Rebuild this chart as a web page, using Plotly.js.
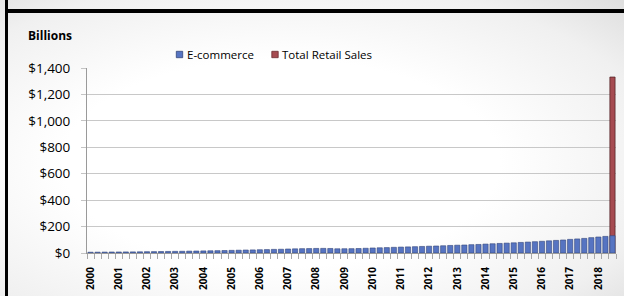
<!DOCTYPE html>
<html>
<head>
<meta charset="utf-8">
<script src="https://cdn.plot.ly/plotly-3.0.1.min.js"></script>
<style>
  html, body { margin: 0; padding: 0; }
  body { width: 624px; height: 296px; overflow: hidden; position: relative;
         background: radial-gradient(ellipse at 45% 55%, #ffffff 45%, #f0f0f0 80%, #dedede 100%); }
  #topline { position: absolute; left: 5px; right: 0; top: 9px; height: 4px; background: #000; }
  #leftline { position: absolute; left: 5px; width: 3px; top: 0; bottom: 0; background: #000; }
  #chart { position: absolute; left: 0; top: 0; width: 624px; height: 296px; }
</style>
</head>
<body>
<div id="chart"></div>
<div id="topline"></div>
<div id="leftline"></div>
<script>
// Quarterly categories 2000 Q1 .. 2018 Q3
const years = ["2000","2001","2002","2003","2004","2005","2006","2007","2008","2009",
               "2010","2011","2012","2013","2014","2015","2016","2017","2018"];
const quarters = ["Q1","Q2","Q3","Q4"];

// E-commerce sales, billions (quarterly)
const ecommerce = [
  5.8, 6.3, 7.0, 7.6,       // 2000
  7.7, 8.1, 8.3, 9.0,       // 2001
  9.9, 10.4, 11.1, 11.8,    // 2002
  12.4, 13.1, 14.1, 15.0,   // 2003
  15.8, 16.8, 17.7, 18.7,   // 2004
  19.9, 21.2, 22.5, 23.3,   // 2005
  24.8, 25.9, 27.3, 28.3,   // 2006
  30.2, 31.6, 32.8, 33.6,   // 2007
  34.6, 34.9, 34.2, 31.9,   // 2008
  32.3, 32.8, 34.0, 35.7,   // 2009
  38.0, 39.5, 41.0, 43.0,   // 2010
  44.8, 46.2, 47.8, 49.6,   // 2011
  51.5, 52.9, 54.8, 57.2,   // 2012
  59.0, 60.5, 63.0, 64.6,   // 2013
  67.5, 69.9, 72.3, 74.8,   // 2014
  77.2, 80.0, 82.7, 85.5,   // 2015
  88.6, 92.2, 95.3, 98.6,   // 2016
  103.0, 106.4, 110.3, 116.2, // 2017
  121.0, 125.5, 130.9       // 2018
];
// Total retail sales shown only for the latest quarter
const totalRetailLatest = 1331.6;

const categories = [];
years.forEach(y => quarters.forEach(q => categories.push(y + " " + q)));
categories.length = ecommerce.length;

const xIdx = categories.map((c, i) => i);
const tickVals = years.map((y, i) => i * 4);
const totalY = categories.map((c, i) => i === categories.length - 1 ? totalRetailLatest : null);

const traces = [
  { type: "bar", name: "Total Retail Sales", x: xIdx, y: totalY, width: 0.74,
    marker: { color: "#A64B51", line: { color: "#4a1c20", width: 0.7 } },
    hovertext: categories, showlegend: false },
  { type: "bar", name: "E-commerce", x: xIdx, y: ecommerce, width: 0.74,
    marker: { color: "#5674C2", line: { color: "#34467a", width: 0.6 } },
    hovertext: categories, showlegend: false }
];

const plotL = 87, plotR = 616, plotT = 68, plotB = 253;
const pw = plotR - plotL, ph = plotB - plotT;
const px = v => (v - plotL) / pw;
const py = v => (plotB - v) / ph;

const layout = {
  width: 624, height: 296,
  margin: { l: plotL, r: 624 - plotR, t: plotT, b: 296 - plotB, pad: 0 },
  paper_bgcolor: "rgba(0,0,0,0)",
  plot_bgcolor: "rgba(0,0,0,0)",
  barmode: "overlay",
  showlegend: false,
  font: { family: "Open Sans, sans-serif", color: "#000" },
  xaxis: {
    range: [-0.5, categories.length - 0.5],
    tickmode: "array", tickvals: tickVals, ticktext: years,
    tickangle: -90, ticks: "", ticklabelstandoff: 9,
    tickfont: { family: "Open Sans", size: 10, color: "#000", weight: "bold" },
    showgrid: false, zeroline: false,
    showline: true, linecolor: "#9a9a9a", linewidth: 1,
    minor: { tickmode: "linear", tick0: -0.5, dtick: 1, ticks: "outside", ticklen: 5,
             tickcolor: "#a8a8a8", tickwidth: 1, showgrid: false }
  },
  yaxis: {
    range: [0, 1400], tickmode: "linear", tick0: 0, dtick: 200,
    tickprefix: "$", tickformat: ",d",
    tickfont: { family: "Open Sans", size: 13.5, color: "#000" },
    ticks: "outside", ticklen: 5, tickcolor: "#c4c4c4", ticklabelstandoff: 8,
    showgrid: true, gridcolor: "#c8c8c8", gridwidth: 1,
    zeroline: false, showline: true, linecolor: "#9a9a9a", linewidth: 1
  },
  annotations: [
    { text: "Billions", xref: "paper", yref: "paper", x: px(26), y: py(35),
      xanchor: "left", yanchor: "middle", showarrow: false,
      font: { family: "Open Sans", size: 12, weight: "bold", color: "#000" } },
    { text: "E-commerce", xref: "paper", yref: "paper", x: px(185), y: py(54.5),
      xanchor: "left", yanchor: "middle", showarrow: false,
      font: { family: "Open Sans", size: 11.5, color: "#000" } },
    { text: "Total Retail Sales", xref: "paper", yref: "paper", x: px(279.5), y: py(54.5),
      xanchor: "left", yanchor: "middle", showarrow: false,
      font: { family: "Open Sans", size: 11.5, color: "#000" } }
  ],
  shapes: [
    { type: "rect", xref: "paper", yref: "paper", xsizemode: "pixel", ysizemode: "pixel",
      xanchor: px(179.5), yanchor: py(54.5), x0: -3.2, x1: 3.2, y0: -3.2, y1: 3.2,
      fillcolor: "#5674C2", line: { color: "#34467a", width: 0.8 } },
    { type: "rect", xref: "paper", yref: "paper", xsizemode: "pixel", ysizemode: "pixel",
      xanchor: px(275), yanchor: py(54.5), x0: -3.2, x1: 3.2, y0: -3.2, y1: 3.2,
      fillcolor: "#A64B51", line: { color: "#6a2a2e", width: 0.8 } }
  ]
};

Plotly.newPlot("chart", traces, layout, { displayModeBar: false, staticPlot: true });
</script>
</body>
</html>
